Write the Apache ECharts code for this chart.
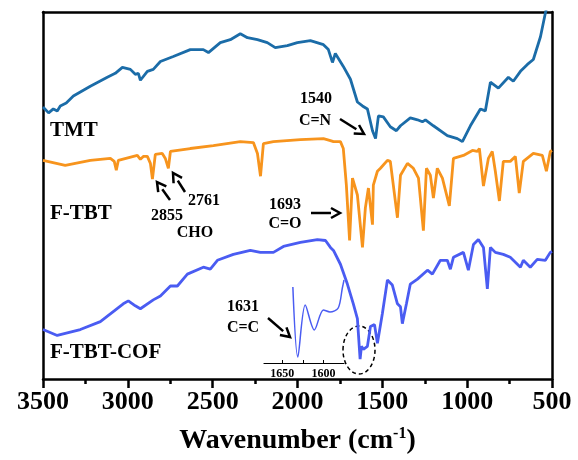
<!DOCTYPE html>
<html>
<head>
<meta charset="utf-8">
<script src="https://cdn.jsdelivr.net/npm/echarts@6/dist/echarts.min.js"></script>
<style>
  html, body { margin: 0; padding: 0; background: #fff; }
  #chart { width: 578px; height: 460px; }
</style>
</head>
<body>
<div id="chart"></div>
<script>
// wavenumber (cm-1) / transmittance (a.u., offset stacked)
var tmtWn = [3500,3467,3439,3416,3398,3363,3321,3221,3121,3074,3032,2985,2956,2938,2926,2885,2850,2808,2732,2632,2555,2525,2455,2396,2337,2295,2236,2178,2131,2060,2001,1924,1847,1818,1794,1777,1730,1688,1647,1617,1588,1558,1540,1523,1494,1453,1417,1393,1335,1293,1264,1246,1199,1117,1058,1028,981,922,893,863,816,757,728,686,645,610,568,539,525];
var tmtT  = [275,269,273,271,276,279,286,296,305,309,315,313,308,309,302,311,313,321,326,333,333,330,340,343,349,345,343,340,335,337,340,342,338,333,320,329,316,303,280,276,273,251,243,266,265,255,251,256,264,262,260,262,256,246,243,240,256,273,271,300,294,305,301,311,318,323,346,370,380];

var ftbtWn = [3500,3369,3221,3103,3080,3068,3056,2944,2926,2909,2885,2867,2855,2838,2797,2779,2761,2749,2632,2496,2337,2260,2236,2218,2201,2142,1983,1847,1806,1788,1747,1730,1712,1693,1676,1647,1617,1600,1582,1558,1553,1529,1511,1470,1453,1411,1393,1352,1317,1287,1258,1240,1217,1199,1176,1146,1105,1081,1022,969,940,928,904,875,852,834,810,787,746,716,693,669,610,557,533,510,500];
var ftbtT  = [221,216,221,223,220,211,221,226,222,225,225,218,202,227,228,223,213,230,233,236,240,239,228,205,238,240,242,243,241,240,240,233,196,140,203,186,133,173,193,156,196,210,213,221,220,163,206,218,213,203,150,213,206,183,213,203,175,223,226,231,230,233,195,223,230,210,180,220,220,225,188,220,228,226,210,230,231];

var cofWn = [3500,3416,3280,3162,3027,2997,2956,2926,2850,2808,2749,2708,2649,2555,2514,2472,2378,2278,2219,2142,2083,1983,1883,1835,1806,1788,1747,1706,1671,1647,1631,1623,1612,1588,1570,1546,1529,1500,1470,1441,1411,1393,1382,1358,1335,1293,1234,1205,1158,1117,1099,1081,1022,993,963,934,904,881,863,834,787,746,686,669,628,587,539,510,500];
var cofT  = [50,44,50,58,76,79,74,71,80,84,94,94,106,113,111,120,126,130,128,128,134,138,141,140,133,130,116,96,76,61,20,33,30,33,53,55,36,66,100,95,76,73,56,76,96,101,110,106,120,120,111,123,128,110,136,141,133,91,133,128,126,123,113,120,113,121,120,128,129];

// inset: C=C region of F-TBT-COF
var insetWn = [1637,1631,1622,1611,1600,1592,1582,1577,1575];
var insetT  = [76,6,58,33,53,51,55,75,83];

var xTicks = [3500,3000,2500,2000,1500,1000,500];

function pairs(xs, ys) {
  return xs.map(function (x, i) { return [x, ys[i]]; });
}

var serif = '"Times New Roman", "Liberation Serif", serif';
var black = '#000';

var chart = echarts.init(document.getElementById('chart'));

function arrow(x1, y1, x2, y2) {
  var a = Math.atan2(y2 - y1, x2 - x1), h = 9, w = 5;
  var bx = x2 - h * Math.cos(a), by = y2 - h * Math.sin(a);
  return [
    { type: 'line', shape: { x1: x1, y1: y1, x2: bx, y2: by }, style: { stroke: black, lineWidth: 2.5 } },
    { type: 'polyline', shape: { points: [[bx - w * Math.sin(a), by + w * Math.cos(a)], [x2, y2], [bx + w * Math.sin(a), by - w * Math.cos(a)]] },
      style: { stroke: black, lineWidth: 2.5, fill: null } }
  ];
}

function label(txt, x, y, size, align) {
  return { type: 'text', x: x, y: y,
    style: { text: txt, font: 'bold ' + size + 'px ' + serif, fill: black, align: align || 'center', verticalAlign: 'middle' } };
}

var graphics = [
  label('TMT', 50, 131, 21, 'left'),
  label('F-TBT', 50, 214, 21, 'left'),
  label('F-TBT-COF', 50, 353, 21, 'left'),
  label('1540', 316, 99, 16),
  label('C=N', 315, 121, 16),
  label('1693', 285, 205, 16),
  label('C=O', 285, 224, 16),
  label('2761', 204, 201, 16),
  label('2855', 167, 216, 16),
  label('CHO', 195, 233, 16),
  label('1631', 243, 307, 16),
  label('C=C', 243, 328, 16),
  { type: 'ellipse', shape: { cx: 359, cy: 350, rx: 16, ry: 24 },
    style: { stroke: black, lineWidth: 1.5, lineDash: [4, 3], fill: null } }
]
.concat(arrow(340, 119, 364, 134))
.concat(arrow(311, 213, 340, 213))
.concat(arrow(170, 200, 157, 182))
.concat(arrow(185, 192, 173, 173))
.concat(arrow(268, 318, 290, 337));

var option = {
  animation: false,
  backgroundColor: '#fff',
  grid: [
    { left: 43, right: 26, top: 12, bottom: 77 },
    { left: 264, width: 80, top: 270, bottom: 97 }
  ],
  xAxis: [
    {
      gridIndex: 0, type: 'value', inverse: true, min: 500, max: 3500, interval: 500,
      name: '{a|Wavenumber (cm}{s|-1}{a|)}', nameLocation: 'middle', nameGap: 47,
      nameTextStyle: { rich: {
        a: { fontFamily: serif, fontWeight: 'bold', fontSize: 28, color: black },
        s: { fontFamily: serif, fontWeight: 'bold', fontSize: 16, color: black, padding: [0, 0, 14, 0] }
      } },
      axisLine: { show: true, onZero: false, lineStyle: { color: black, width: 2.5 } },
      axisTick: { show: true, inside: false, length: 9, lineStyle: { color: black, width: 2.5 } },
      minorTick: { show: true, splitNumber: 2, length: 5, lineStyle: { color: black, width: 2.5 } },
      splitLine: { show: false },
      axisLabel: { fontFamily: serif, fontWeight: 'bold', fontSize: 26, color: black, margin: 10,
        formatter: function (v) { return xTicks.indexOf(v) >= 0 ? String(v) : ''; } }
    },
    {
      gridIndex: 0, type: 'value', position: 'top', inverse: true, min: 500, max: 3500,
      axisLine: { show: true, onZero: false, lineStyle: { color: black, width: 2.5 } },
      axisTick: { show: false }, axisLabel: { show: false }, splitLine: { show: false }
    },
    {
      gridIndex: 2 - 1, type: 'value', inverse: true, min: 1575, max: 1672, interval: 25,
      axisLine: { show: true, onZero: false, lineStyle: { color: black, width: 1.2 } },
      axisTick: { show: true, inside: true, length: 3, lineStyle: { color: black, width: 1 } },
      splitLine: { show: false },
      axisLabel: { fontFamily: serif, fontWeight: 'bold', fontSize: 12, color: black, margin: 5,
        showMinLabel: false, showMaxLabel: false,
        formatter: function (v) { return v % 50 === 0 ? String(v) : ''; } }
    }
  ],
  yAxis: [
    {
      gridIndex: 0, type: 'value', min: 0, max: 371,
      axisLine: { show: true, onZero: false, lineStyle: { color: black, width: 2.5 } },
      axisTick: { show: false }, axisLabel: { show: false }, splitLine: { show: false }
    },
    {
      gridIndex: 0, type: 'value', position: 'right', min: 0, max: 371,
      axisLine: { show: true, onZero: false, lineStyle: { color: black, width: 2.5 } },
      axisTick: { show: false }, axisLabel: { show: false }, splitLine: { show: false }
    },
    { gridIndex: 1, type: 'value', min: 0, max: 93, show: false }
  ],
  series: [
    { name: 'TMT', type: 'line', xAxisIndex: 0, yAxisIndex: 0, showSymbol: false, clip: true,
      lineStyle: { color: '#1b6ca8', width: 2.8 }, data: pairs(tmtWn, tmtT) },
    { name: 'F-TBT', type: 'line', xAxisIndex: 0, yAxisIndex: 0, showSymbol: false,
      lineStyle: { color: '#f7941d', width: 2.8 }, data: pairs(ftbtWn, ftbtT) },
    { name: 'F-TBT-COF', type: 'line', xAxisIndex: 0, yAxisIndex: 0, showSymbol: false,
      lineStyle: { color: '#4a5cf2', width: 2.8 }, data: pairs(cofWn, cofT) },
    { name: 'inset', type: 'line', xAxisIndex: 2, yAxisIndex: 2, showSymbol: false, smooth: 0.3,
      lineStyle: { color: '#4a5cf2', width: 1.5 }, data: pairs(insetWn, insetT) }
  ],
  graphic: graphics
};

chart.setOption(option);
</script>
</body>
</html>
